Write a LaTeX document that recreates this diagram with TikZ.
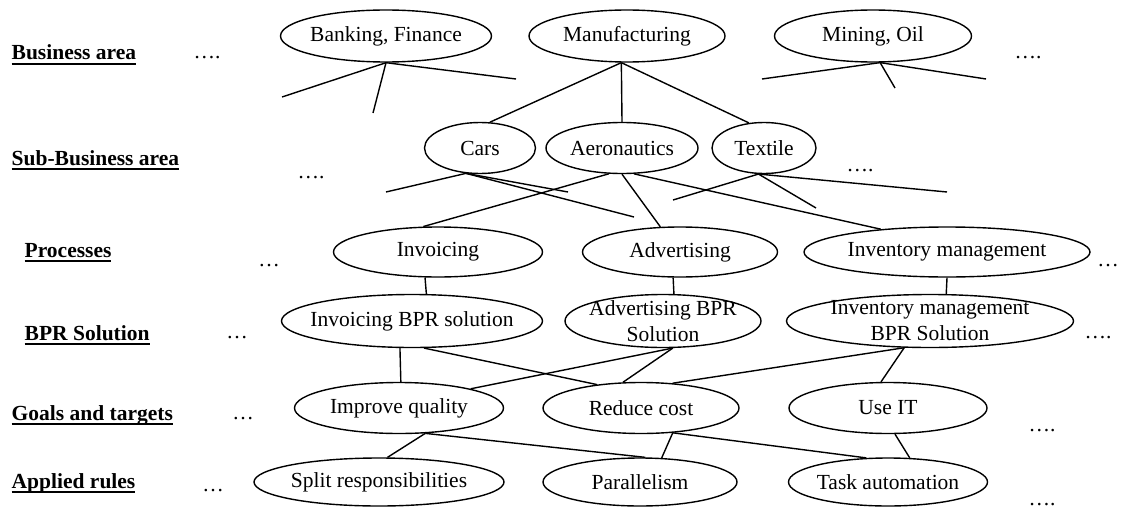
\documentclass[tikz,border=0pt]{standalone}
\usepackage{fontspec}
\setmainfont{Liberation Serif}
\usetikzlibrary{shapes.geometric, calc}

\newcommand{\diagfont}{\fontsize{10.75}{13}\selectfont}
% bold level name with a heavy underline
\newcommand{\ulbf}[1]{\setbox0=\hbox{#1}\rlap{\rule[-2.6pt]{\wd0}{1.1pt}}\box0}

\tikzset{
  oval/.style 2 args={ellipse, draw, inner sep=0pt, minimum width=#1*0.5pt, minimum height=#2*0.5pt},
  level/.style={anchor=base west, inner sep=0pt, font=\diagfont\bfseries},
  more/.style={anchor=base, inner sep=0pt},
}

\begin{document}
\begin{tikzpicture}[x=0.5pt, y=-0.5pt, line width=0.7pt, font=\diagfont]
  \useasboundingbox (0,0) rectangle (1122,508);

  % level names
  \node[level] (lbus)  at (11,60)  {\ulbf{Business area}};
  \node[level] (lsub)  at (11,165) {\ulbf{Sub-Business area}};
  \node[level] (lproc) at (24,257) {\ulbf{Processes}};
  \node[level] (lbpr)  at (24,340) {\ulbf{BPR Solution}};
  \node[level] (lgoal) at (11,420) {\ulbf{Goals and targets}};
  \node[level] (lrule) at (11,488) {\ulbf{Applied rules}};

  % business areas
  \node[oval={211}{52}, label={center:Banking, Finance}] (bank) at (386,36) {};
  \node[oval={196}{52}, label=center:Manufacturing] (manu) at (627,36) {};
  \node[oval={197}{52}, label={center:Mining, Oil}] (mine) at (873,36) {};

  % sub-business areas
  \node[oval={111}{51}, label=center:Cars] (cars) at (480,148) {};
  \node[oval={152}{51}, label=center:Aeronautics] (aero) at (622,148) {};
  \node[oval={104}{51}, label=center:Textile] (textile) at (764,148) {};

  % processes
  \node[oval={209}{50}, label=center:Invoicing] (invo) at (438,252) {};
  \node[oval={195}{50}, label=center:Advertising] (adve) at (680,252) {};
  \node[oval={286}{50}, label=center:Inventory management] (inve) at (947,252) {};

  % BPR solutions
  \node[oval={261}{53}, label=center:Invoicing BPR solution] (invobpr) at (412,321) {};
  \node[oval={196}{53}, label={[align=center]center:Advertising BPR\\Solution}] (advebpr) at (663,321) {};
  \node[oval={287}{53}, label={[align=center]center:Inventory management\\BPR Solution}] (invebpr) at (930,321) {};

  % goals
  \node[oval={209}{51}, label=center:Improve quality] (qual) at (399,408) {};
  \node[oval={196}{51}, label=center:Reduce cost] (cost) at (641,408) {};
  \node[oval={198}{51}, label=center:Use IT] (useit) at (888,408) {};

  % rules
  \node[oval={250}{48}, label=center:Split responsibilities] (split) at (379,482) {};
  \node[oval={194}{48}, label=center:Parallelism] (para) at (640,482) {};
  \node[oval={199}{48}, label=center:Task automation] (task) at (888,482) {};

  % the dots
  \node[more] (dbus1)  at (207,59)  {….};
  \node[more] (dbus2)  at (1028,59) {….};
  \node[more] (dsub1)  at (311,178) {….};
  \node[more] (dsub2)  at (860,171) {….};
  \node[more] (dproc1) at (269,266) {…};
  \node[more] (dproc2) at (1108,266) {…};
  \node[more] (dbpr1)  at (237,338) {…};
  \node[more] (dbpr2)  at (1098,338) {….};
  \node[more] (dgoal1) at (243,419) {…};
  \node[more] (dgoal2) at (1042,431) {….};
  \node[more] (drule1) at (213,491) {…};
  \node[more] (drule2) at (1042,505) {….};

  % loose ends
  \coordinate (b1) at (282,97);
  \coordinate (b2) at (373,113);
  \coordinate (b3) at (516,79);
  \coordinate (m1) at (762,79);
  \coordinate (m2) at (895,88);
  \coordinate (m3) at (986,79);
  \coordinate (c1) at (386,192);
  \coordinate (c2) at (568,192);
  \coordinate (c3) at (634,217);
  \coordinate (t1) at (673,200);
  \coordinate (t2) at (816,208);
  \coordinate (t3) at (947,192);

  \foreach \e in {b1,b2,b3} \draw (bank.south) -- (\e);
  \foreach \e in {m1,m2,m3} \draw (mine.285) -- (\e);
  \foreach \e in {c1,c2,c3} \draw (cars.241) -- (\e);
  \foreach \e in {t1,t2,t3} \draw (textile.258) -- (\e);

  \draw (manu.258) -- (cars.69);
  \draw (manu.258) -- (aero.north);
  \draw (manu.258) -- (textile.121);

  \draw (aero.243) -- (invo.120);
  \draw (aero.south) -- (adve.128);
  \draw (aero.295) -- (inve.161);

  \draw (invo.243) -- (invobpr.62);
  \draw (adve.255) -- (advebpr.68);
  \draw (inve.south) -- (invebpr.59);

  \draw (invobpr.246) -- (qual.86);
  \draw (invobpr.294) -- (cost.152);
  \draw (advebpr.290) -- (qual.15);
  \draw (advebpr.290) -- (cost.125);
  \draw (invebpr.226) -- (cost.38);
  \draw (invebpr.226) -- (useit.105);

  \draw (qual.316) -- (split.71);
  \draw (qual.316) -- (para.78);
  \draw (cost.322) -- (para.48);
  \draw (cost.322) -- (task.132);
  \draw (useit.285) -- (task.48);
\end{tikzpicture}
\end{document}
